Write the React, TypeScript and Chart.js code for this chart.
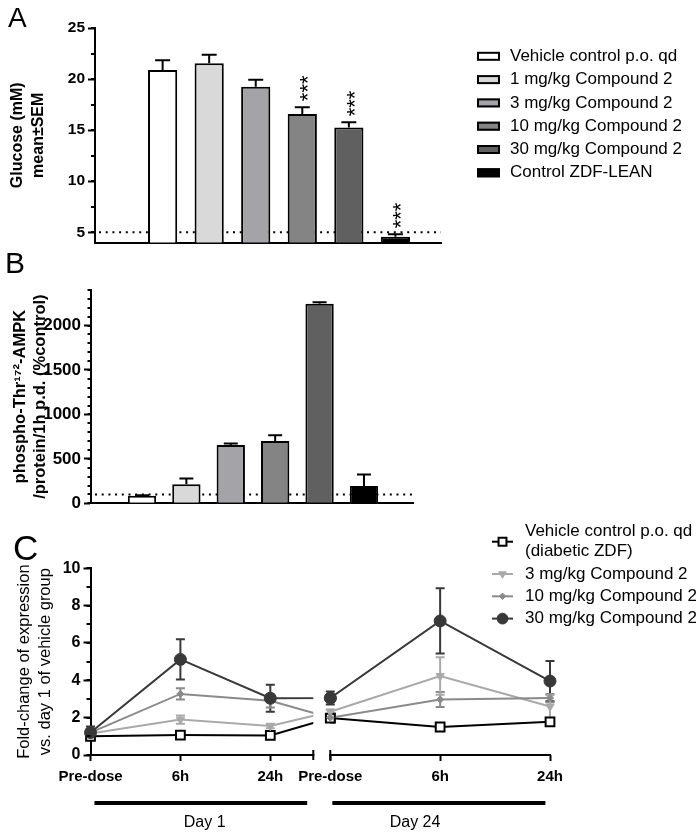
import React, { useEffect, useRef } from 'react';
import { Chart, registerables } from 'chart.js';
import { drawPoint } from 'chart.js/helpers';

Chart.register(...registerables);

const FONT = '"Liberation Sans", Arial, Helvetica, sans-serif';
Chart.defaults.font.family = FONT;
Chart.defaults.color = '#000';

// ---------------- Panel A : glucose ----------------
const GROUPS = [
  'Vehicle control p.o. qd',
  '1 mg/kg Compound 2',
  '3 mg/kg Compound 2',
  '10 mg/kg Compound 2',
  '30 mg/kg Compound 2',
  'Control ZDF-LEAN',
];
const GROUP_COLORS = ['#ffffff', '#d9d9d9', '#a4a4a8', '#848484', '#606060', '#000000'];
const GLUCOSE = [20.9, 21.55, 19.25, 16.57, 15.25, 4.57];
const GLUCOSE_SEM = [0.95, 0.82, 0.68, 0.68, 0.52, 0.23];
const GLUCOSE_SIG = ['', '', '', '***', '***', '***'];
const GLUCOSE_TICKS = [5, 10, 15, 20, 25];
const GLUCOSE_BASELINE = 5;

// ---------------- Panel B : pAMPK ----------------
const AMPK = [85, 213, 655, 702, 2245, 194];
const AMPK_SEM = [5, 67, 18, 64, 17, 131];
const AMPK_TICKS = [0, 500, 1000, 1500, 2000];
const AMPK_BASELINE = 100;

// ---------------- Panel C : time course ----------------
const TIMEPOINTS = ['Pre-dose', '6h', '24h', 'Pre-dose', '6h', '24h'];
const TIME_POS = [0, 1, 2, 2.667, 3.889, 5.111];
const DAYS = ['Day 1', 'Day 24'];
const DAY_POS = [1.27, 3.61];
const C_TICKS = [0, 2, 4, 6, 8, 10];
const SERIES_LABELS = [
  ['Vehicle control p.o. qd', '(diabetic ZDF)'],
  ['3 mg/kg Compound 2'],
  ['10 mg/kg Compound 2'],
  ['30 mg/kg Compound 2'],
];
const VEHICLE = [1.0, 1.07, 1.05, 1.98, 1.5, 1.78];
const VEHICLE_ERR = [0.05, 0.08, 0.08, 0.1, 0.08, 0.1];
const DOSE3 = [1.15, 1.9, 1.55, 2.32, 4.23, 2.6];
const DOSE3_ERR = [0.2, 0.22, 0.12, 0.12, 1.0, 0.6];
const DOSE10 = [1.2, 3.27, 2.9, 2.0, 2.97, 3.05];
const DOSE10_ERR = [0.15, 0.3, 0.35, 0.1, 0.4, 0.22];
const DOSE30 = [1.2, 5.12, 3.04, 3.05, 7.18, 3.96];
const DOSE30_ERR = [0.33, 1.08, 0.72, 0.35, 1.75, 1.08];

// ---------------- plugins ----------------
const refLinePlugin = {
  id: 'refLine',
  beforeDatasetsDraw(chart: any, _a: any, o: any) {
    const { ctx, chartArea } = chart;
    const y = chart.scales.y.getPixelForValue(o.value);
    ctx.save();
    ctx.strokeStyle = '#000';
    ctx.lineWidth = 2;
    ctx.setLineDash([2, 4.7]);
    ctx.beginPath();
    ctx.moveTo(chartArea.left + 4, y);
    ctx.lineTo(chartArea.right, y);
    ctx.stroke();
    ctx.restore();
  },
};

const barErrorsPlugin = {
  id: 'barErrors',
  afterDatasetsDraw(chart: any, _a: any, o: any) {
    const { ctx } = chart;
    const y = chart.scales.y;
    chart.data.datasets.forEach((ds: any, di: number) => {
      const meta = chart.getDatasetMeta(di);
      meta.data.forEach((bar: any, i: number) => {
        const v = ds.data[i].y;
        const e = ds.errors[i];
        const yTop = y.getPixelForValue(v);
        const yCap = y.getPixelForValue(v + e);
        ctx.save();
        ctx.strokeStyle = '#000';
        ctx.lineWidth = 2;
        ctx.beginPath();
        ctx.moveTo(bar.x, yTop);
        ctx.lineTo(bar.x, yCap);
        ctx.moveTo(bar.x - o.cap / 2, yCap);
        ctx.lineTo(bar.x + o.cap / 2, yCap);
        ctx.stroke();
        const sig = ds.sig && ds.sig[i];
        if (sig) {
          const fs = o.starSize;
          ctx.translate(bar.x, yCap - o.starGap);
          ctx.rotate(-Math.PI / 2);
          ctx.font = `${fs}px ${FONT}`;
          ctx.fillStyle = '#000';
          ctx.textAlign = 'left';
          ctx.textBaseline = 'alphabetic';
          ctx.fillText(sig, 0, 0.585 * fs);
        }
        ctx.restore();
      });
    });
  },
};

const minorTicksPlugin = {
  id: 'minorTicks',
  afterDraw(chart: any, _a: any, o: any) {
    const s = chart.scales.y;
    const ctx = chart.ctx;
    ctx.save();
    ctx.strokeStyle = '#000';
    ctx.lineWidth = 2;
    for (let v = o.from; v <= s.max + 1e-9; v += o.step) {
      const yy = Math.round(s.getPixelForValue(v));
      ctx.beginPath();
      ctx.moveTo(s.right - o.length, yy);
      ctx.lineTo(s.right, yy);
      ctx.stroke();
    }
    ctx.restore();
  },
};

const boxLegendPlugin = {
  id: 'boxLegend',
  afterDraw(chart: any, _a: any, o: any) {
    const { ctx } = chart;
    const ds = chart.data.datasets[0];
    chart.data.labels.forEach((label: string, i: number) => {
      const cy = o.y + i * o.rowGap;
      ctx.save();
      ctx.fillStyle = ds.backgroundColor[i];
      ctx.fillRect(o.x, cy - o.boxH / 2, o.boxW, o.boxH);
      ctx.strokeStyle = '#000';
      ctx.lineWidth = 2;
      ctx.strokeRect(o.x + 1, cy - o.boxH / 2 + 1, o.boxW - 2, o.boxH - 2);
      ctx.fillStyle = '#000';
      ctx.font = `${o.fontSize}px ${FONT}`;
      ctx.textAlign = 'left';
      ctx.textBaseline = 'middle';
      ctx.fillText(label, o.textX, cy);
      ctx.restore();
    });
  },
};

const lineLegendPlugin = {
  id: 'lineLegend',
  afterDraw(chart: any, _a: any, o: any) {
    const { ctx } = chart;
    let y = o.y;
    chart.data.datasets.forEach((ds: any) => {
      const lines: string[] = ds.legendLines;
      const my = y + ((lines.length - 1) * o.lineHeight) / 2;
      ctx.save();
      ctx.strokeStyle = ds.borderColor;
      ctx.lineWidth = 2;
      ctx.beginPath();
      ctx.moveTo(o.x0, my);
      ctx.lineTo(o.x1, my);
      ctx.stroke();
      ctx.fillStyle = ds.pointBackgroundColor;
      ctx.strokeStyle = ds.pointBorderColor;
      ctx.lineWidth = ds.pointBorderWidth;
      drawPoint(
        ctx,
        {
          pointStyle: ds.pointStyle,
          rotation: ds.pointRotation || 0,
          radius: ds.pointRadius * o.markerScale,
          borderWidth: ds.pointBorderWidth,
        } as any,
        (o.x0 + o.x1) / 2,
        my
      );
      ctx.fillStyle = '#000';
      ctx.font = `${o.fontSize}px ${FONT}`;
      ctx.textAlign = 'left';
      ctx.textBaseline = 'middle';
      lines.forEach((t, k) => ctx.fillText(t, o.textX, y + k * o.lineHeight));
      ctx.restore();
      y += (lines.length - 1) * o.lineHeight + o.rowGap;
    });
  },
};

const lineErrorsPlugin = {
  id: 'lineErrors',
  beforeDatasetsDraw(chart: any, _a: any, o: any) {
    const { ctx } = chart;
    const y = chart.scales.y;
    for (let di = chart.data.datasets.length - 1; di >= 0; di--) {
      const ds = chart.data.datasets[di];
      const meta = chart.getDatasetMeta(di);
      ctx.save();
      ctx.strokeStyle = ds.borderColor;
      ctx.lineWidth = o.width;
      meta.data.forEach((p: any, i: number) => {
        const v = ds.data[i].y;
        const e = ds.errors[i];
        const y1 = y.getPixelForValue(v - e);
        const y2 = y.getPixelForValue(v + e);
        ctx.beginPath();
        ctx.moveTo(p.x, y1);
        ctx.lineTo(p.x, y2);
        ctx.moveTo(p.x - o.cap / 2, y1);
        ctx.lineTo(p.x + o.cap / 2, y1);
        ctx.moveTo(p.x - o.cap / 2, y2);
        ctx.lineTo(p.x + o.cap / 2, y2);
        ctx.stroke();
      });
      ctx.restore();
    }
  },
};

const brokenAxisPlugin = {
  id: 'brokenAxis',
  beforeDatasetsDraw(chart: any, _a: any, o: any) {
    const { ctx, chartArea: ca } = chart;
    const x = chart.scales.x;
    const g0 = x.getPixelForValue(o.segments[0][1]);
    const g1 = x.getPixelForValue(o.segments[1][0]);
    ctx.save();
    ctx.beginPath();
    ctx.rect(ca.left - 20, ca.top - 20, g0 - ca.left + 20, ca.height + 40);
    ctx.rect(g1, ca.top - 20, ca.right + 20 - g1, ca.height + 40);
    ctx.clip();
  },
  afterDatasetsDraw(chart: any, _a: any, o: any) {
    const { ctx, chartArea: ca } = chart;
    const x = chart.scales.x;
    ctx.restore();
    const g0 = x.getPixelForValue(o.segments[0][1]);
    const g1 = x.getPixelForValue(o.segments[1][0]);
    const metas = chart.getSortedVisibleDatasetMetas();
    for (let i = metas.length - 1; i >= 0; i--) {
      metas[i].data.forEach((p: any) => {
        if (p.x >= g0 - 1 && p.x <= g1 + 12) p.draw(ctx);
      });
    }
    ctx.save();
    ctx.strokeStyle = '#000';
    ctx.lineWidth = 2;
    const yb = ca.bottom;
    o.segments.forEach(([a, b]: number[]) => {
      ctx.beginPath();
      ctx.moveTo(x.getPixelForValue(a) - 1, yb);
      ctx.lineTo(x.getPixelForValue(b) + 1, yb);
      ctx.stroke();
    });
    [g0, g1].forEach((gx) => {
      ctx.beginPath();
      ctx.moveTo(gx, yb - o.breakTick);
      ctx.lineTo(gx, yb + o.breakTick);
      ctx.stroke();
    });
    ctx.lineWidth = o.underlineWidth;
    o.underlines.forEach(([a, b]: number[]) => {
      ctx.beginPath();
      ctx.moveTo(x.getPixelForValue(a), yb + o.underlineOffset);
      ctx.lineTo(x.getPixelForValue(b), yb + o.underlineOffset);
      ctx.stroke();
    });
    ctx.restore();
  },
};

// ---------------- helpers ----------------
function yAxis(c: any) {
  return {
    min: c.min,
    max: c.max,
    afterBuildTicks: (s: any) => {
      s.ticks = c.ticks.map((v: number) => ({ value: v }));
    },
    ticks: {
      font: c.tickFont,
      color: '#000',
      padding: 3,
      callback: (v: any) => String(v),
    },
    grid: { drawOnChartArea: false, tickLength: 7, tickWidth: 2, tickColor: '#000' },
    border: { color: '#000', width: 2 },
    title: {
      display: true,
      text: c.title,
      font: c.titleFont,
      padding: { top: c.titlePad, bottom: 0 },
      color: '#000',
    },
    afterFit: (s: any) => {
      s.width = c.width;
    },
  };
}

function barConfig(c: any): any {
  return {
    type: 'bar',
    data: {
      labels: GROUPS,
      datasets: [
        {
          label: c.label,
          data: c.values.map((v: number, i: number) => ({ x: i + 1, y: v })),
          backgroundColor: GROUP_COLORS,
          borderColor: '#000',
          borderWidth: 2,
          barPercentage: c.barPct,
          categoryPercentage: 1,
          errors: c.errors,
          sig: c.sig,
        },
      ],
    },
    options: {
      responsive: false,
      animation: false,
      events: [],
      devicePixelRatio: 1,
      layout: { padding: c.padding },
      plugins: {
        legend: { display: false },
        tooltip: { enabled: false },
        refLine: { value: c.baseline },
        barErrors: { cap: c.cap, starSize: 22, starGap: 6 },
        minorTicks: c.minor,
        boxLegend: c.legend || false,
      },
      scales: {
        x: {
          type: 'linear',
          min: c.xMin,
          max: c.xMax,
          ticks: { display: false },
          grid: { display: false },
          border: { color: '#000', width: 2 },
          afterFit: (s: any) => {
            s.height = c.xHeight;
          },
        },
        y: yAxis(c.y),
      },
    },
    plugins: [refLinePlugin, barErrorsPlugin, minorTicksPlugin, ...(c.legend ? [boxLegendPlugin] : [])],
  };
}

function configA(): any {
  return barConfig({
    label: 'Glucose (mM)',
    values: GLUCOSE,
    errors: GLUCOSE_SEM,
    sig: GLUCOSE_SIG,
    baseline: GLUCOSE_BASELINE,
    barPct: 0.627,
    cap: 15,
    xMin: 0.167,
    xMax: 6.36,
    xHeight: 17.5,
    padding: { left: 0, top: 28, right: 255, bottom: 0 },
    minor: { from: 5, step: 2.5, length: 4 },
    legend: { x: 477, y: 56.3, rowGap: 23.3, boxW: 23, boxH: 9, textX: 510, fontSize: 17 },
    y: {
      min: 4,
      max: 25,
      ticks: GLUCOSE_TICKS,
      tickFont: { size: 15.5, weight: 'bold' },
      title: ['Glucose (mM)', 'mean\u00b1SEM'],
      titleFont: { size: 16, weight: 'bold', lineHeight: '21px' },
      titlePad: 7,
      width: 95,
    },
  });
}

function configB(): any {
  return barConfig({
    label: 'pAMPK',
    values: AMPK,
    errors: AMPK_SEM,
    sig: null,
    baseline: AMPK_BASELINE,
    barPct: 0.638,
    cap: 14,
    xMin: 0.456,
    xMax: 6.5,
    xHeight: 16.7,
    padding: { left: 0, top: 40, right: 283, bottom: 0 },
    minor: { from: 0, step: 100, length: 3.5 },
    legend: null,
    y: {
      min: 0,
      max: 2400,
      ticks: AMPK_TICKS,
      tickFont: { size: 17, weight: 'bold' },
      title: ['phospho-Thr\u00b9\u2077\u00b2-AMPK', '/protein/1h p.d. (%control)'],
      titleFont: { size: 16.5, weight: 'bold', lineHeight: '20px' },
      titlePad: 10,
      width: 91,
    },
  });
}

function configC(): any {
  const mk = (
    idx: number,
    values: number[],
    errors: number[],
    color: string,
    style: any
  ) => ({
    label: SERIES_LABELS[idx].join(' '),
    legendLines: SERIES_LABELS[idx],
    data: values.map((v, i) => ({ x: TIME_POS[i], y: v })),
    errors,
    borderColor: color,
    backgroundColor: color,
    borderWidth: 2,
    tension: 0,
    clip: false,
    ...style,
  });
  return {
    type: 'line',
    data: {
      datasets: [
        mk(0, VEHICLE, VEHICLE_ERR, '#000000', {
          pointStyle: 'rect',
          pointRadius: 6.2,
          pointBackgroundColor: '#ffffff',
          pointBorderColor: '#000000',
          pointBorderWidth: 2,
          order: 3,
        }),
        mk(1, DOSE3, DOSE3_ERR, '#a9a9a9', {
          pointStyle: 'triangle',
          pointRotation: 180,
          pointRadius: 4.8,
          pointBackgroundColor: '#a9a9a9',
          pointBorderColor: '#a9a9a9',
          pointBorderWidth: 1,
          order: 2,
        }),
        mk(2, DOSE10, DOSE10_ERR, '#8a8a8a', {
          pointStyle: 'rectRot',
          pointRadius: 3.6,
          pointBackgroundColor: '#8a8a8a',
          pointBorderColor: '#8a8a8a',
          pointBorderWidth: 1,
          order: 1,
        }),
        mk(3, DOSE30, DOSE30_ERR, '#383838', {
          pointStyle: 'circle',
          pointRadius: 6,
          pointBackgroundColor: '#383838',
          pointBorderColor: '#383838',
          pointBorderWidth: 1,
          order: 0,
        }),
      ],
    },
    options: {
      responsive: false,
      animation: false,
      events: [],
      devicePixelRatio: 1,
      layout: { padding: { left: 0, top: 48.3, right: 146, bottom: 0 } },
      plugins: {
        legend: { display: false },
        tooltip: { enabled: false },
        lineErrors: { cap: 9, width: 2 },
        brokenAxis: {
          segments: [
            [0, 2.478],
            [2.667, 5.111],
          ],
          breakTick: 5,
          underlines: [
            [0.044, 2.41],
            [2.69, 5.06],
          ],
          underlineOffset: 48,
          underlineWidth: 4,
        },
        minorTicks: { from: 0, step: 1, length: 4 },
        lineLegend: {
          x0: 492,
          x1: 513,
          textX: 525,
          y: 11.7,
          lineHeight: 20,
          rowGap: 22.3,
          fontSize: 17,
          markerScale: 0.9,
        },
      },
      scales: {
        x: {
          type: 'linear',
          min: 0,
          max: 5.111,
          afterBuildTicks: (s: any) => {
            s.ticks = TIME_POS.map((v) => ({ value: v }));
          },
          ticks: {
            callback: (_v: any, i: number) => TIMEPOINTS[i],
            autoSkip: false,
            maxRotation: 0,
            font: { size: 15, weight: 'bold' },
            color: '#000',
            padding: 7,
          },
          grid: { drawOnChartArea: false, tickLength: 6, tickWidth: 2, tickColor: '#000' },
          border: { display: false },
          afterFit: (s: any) => {
            s.height = 32;
          },
        },
        x2: {
          type: 'linear',
          position: 'bottom',
          weight: 1,
          min: 0,
          max: 5.111,
          afterBuildTicks: (s: any) => {
            s.ticks = DAY_POS.map((v) => ({ value: v }));
          },
          ticks: {
            callback: (_v: any, i: number) => DAYS[i],
            autoSkip: false,
            maxRotation: 0,
            font: { size: 16 },
            color: '#000',
            padding: 26.4,
          },
          grid: { display: false, drawTicks: false },
          border: { display: false },
          afterFit: (s: any) => {
            s.height = 48;
          },
        },
        y: yAxis({
          min: 0,
          max: 10,
          ticks: C_TICKS,
          tickFont: { size: 16, weight: 'bold' },
          title: ['Fold-change of expression', 'vs. day 1 of vehicle group'],
          titleFont: { size: 16.5, weight: 'normal', lineHeight: '21px' },
          titlePad: 14,
          width: 90.5,
        }),
      },
    },
    plugins: [lineErrorsPlugin, brokenAxisPlugin, minorTicksPlugin, lineLegendPlugin],
  };
}

export default function App() {
  const aRef = useRef<HTMLCanvasElement>(null);
  const bRef = useRef<HTMLCanvasElement>(null);
  const cRef = useRef<HTMLCanvasElement>(null);

  useEffect(() => {
    const charts = [
      new Chart(aRef.current as HTMLCanvasElement, configA()),
      new Chart(bRef.current as HTMLCanvasElement, configB()),
      new Chart(cRef.current as HTMLCanvasElement, configC()),
    ];
    return () => charts.forEach((c) => c.destroy());
  }, []);

  const panelLabel = (text: string, left: number, top: number, size: number) => (
    <div
      style={{
        position: 'absolute',
        left,
        top,
        fontSize: size,
        lineHeight: 1,
        fontFamily: FONT,
        color: '#000',
        zIndex: 2,
      }}
    >
      {text}
    </div>
  );

  return (
    <div
      style={{
        position: 'absolute',
        left: 0,
        top: 0,
        width: 696,
        height: 835,
        background: '#fff',
        overflow: 'hidden',
      }}
    >
      <canvas ref={aRef} width={696} height={260} style={{ position: 'absolute', left: 0, top: 0 }} />
      <canvas ref={bRef} width={696} height={270} style={{ position: 'absolute', left: 0, top: 250 }} />
      <canvas ref={cRef} width={696} height={315} style={{ position: 'absolute', left: 0, top: 520 }} />
      {panelLabel('A', 8, 4.3, 28)}
      {panelLabel('B', 5, 248, 30)}
      {panelLabel('C', 13, 530.4, 35)}
    </div>
  );
}
